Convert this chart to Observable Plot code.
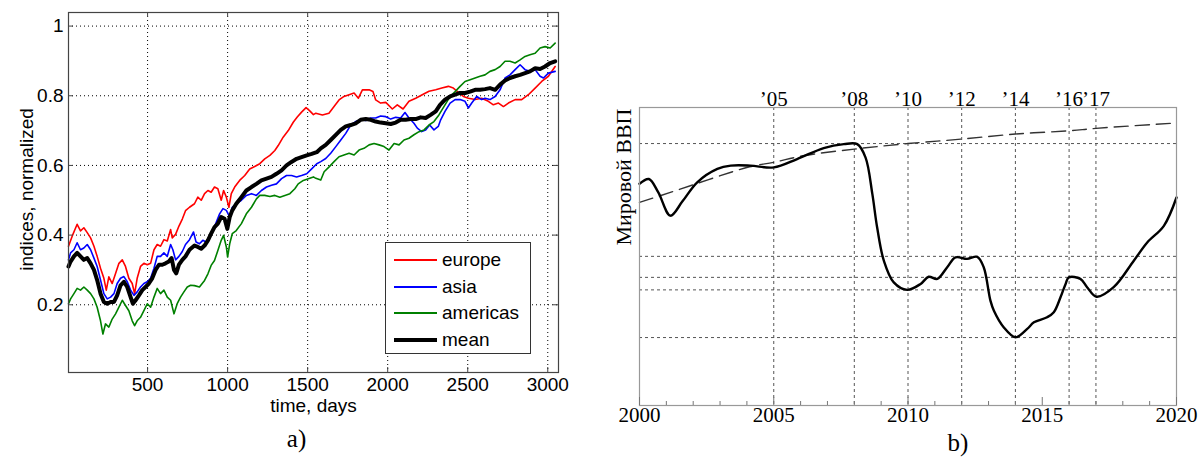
<!DOCTYPE html>
<html><head><meta charset="utf-8">
<script src="https://cdn.jsdelivr.net/npm/d3@7"></script>
<script src="https://cdn.jsdelivr.net/npm/@observablehq/plot@0.6"></script>
<style>
body{margin:0;background:#fff;}
#wrap{position:relative;width:1203px;height:464px;background:#fff;overflow:hidden;}
#wrap .panel{position:absolute;top:0;}
#legend{position:absolute;left:385px;top:242px;width:144px;height:110px;border:1px solid #333;background:#fff;font-family:"Liberation Sans",Arial,sans-serif;font-size:19px;color:#000;}
#legend .row{position:absolute;left:0;height:20px;width:144px;}
#legend .sw{position:absolute;left:8px;width:43px;top:50%;}
#legend .lb{position:absolute;left:56px;top:50%;transform:translateY(-52%);line-height:1;}
</style></head>
<body><div id="wrap"></div>
<script>
// ---------- panel a: regional stock indices, normalized ----------
const seriesNames = ["europe", "asia", "americas", "mean"];
const seriesColors = ["#ff0000", "#0000ff", "#008000", "#000000"];
const xTicksA = [500, 1000, 1500, 2000, 2500, 3000];
const yTicksA = [0.2, 0.4, 0.6, 0.8, 1];

const europe = [[6,0.368],[29,0.397],[60,0.431],[81,0.412],[102,0.421],[123,0.407],[144,0.392],[165,0.368],[185,0.339],[206,0.305],[227,0.276],[242,0.242],[258,0.28],[279,0.261],[300,0.29],[321,0.319],[342,0.329],[362,0.31],[383,0.276],[404,0.261],[419,0.232],[435,0.276],[456,0.31],[477,0.319],[498,0.315],[519,0.319],[540,0.358],[560,0.373],[581,0.368],[602,0.387],[623,0.383],[644,0.416],[654,0.392],[675,0.402],[696,0.426],[717,0.446],[737,0.47],[762,0.48],[793,0.49],[814,0.509],[835,0.5],[856,0.519],[877,0.528],[897,0.523],[918,0.538],[939,0.533],[960,0.5],[975,0.528],[992,0.509],[1008,0.48],[1023,0.519],[1044,0.538],[1075,0.557],[1107,0.571],[1138,0.59],[1169,0.597],[1201,0.605],[1232,0.619],[1264,0.629],[1295,0.643],[1316,0.657],[1347,0.681],[1379,0.7],[1410,0.724],[1435,0.739],[1462,0.753],[1490,0.766],[1510,0.758],[1536,0.746],[1551,0.75],[1592,0.745],[1633,0.75],[1665,0.769],[1696,0.788],[1727,0.798],[1759,0.803],[1790,0.808],[1817,0.793],[1842,0.817],[1884,0.817],[1908,0.812],[1925,0.788],[1956,0.779],[1988,0.781],[2029,0.762],[2060,0.774],[2096,0.762],[2133,0.784],[2175,0.793],[2216,0.803],[2258,0.813],[2300,0.817],[2338,0.822],[2379,0.827],[2410,0.822],[2442,0.81],[2473,0.798],[2504,0.793],[2546,0.789],[2587,0.793],[2629,0.784],[2660,0.774],[2692,0.779],[2723,0.769],[2754,0.779],[2796,0.789],[2837,0.789],[2879,0.803],[2921,0.822],[2962,0.841],[3004,0.856],[3046,0.884]];

const asia = [[6,0.329],[19,0.349],[40,0.358],[60,0.378],[81,0.358],[102,0.363],[123,0.373],[144,0.358],[165,0.334],[185,0.31],[206,0.271],[227,0.232],[248,0.217],[269,0.222],[290,0.232],[310,0.261],[331,0.276],[352,0.281],[373,0.266],[394,0.242],[415,0.227],[435,0.237],[456,0.251],[477,0.261],[498,0.266],[519,0.276],[540,0.305],[560,0.339],[581,0.339],[602,0.349],[623,0.339],[644,0.373],[658,0.358],[675,0.329],[696,0.339],[717,0.353],[737,0.373],[762,0.387],[787,0.409],[803,0.38],[824,0.375],[845,0.385],[866,0.38],[887,0.394],[908,0.413],[929,0.437],[950,0.461],[971,0.476],[992,0.471],[1013,0.452],[1029,0.48],[1054,0.49],[1086,0.5],[1117,0.514],[1149,0.519],[1180,0.514],[1211,0.528],[1243,0.538],[1274,0.543],[1305,0.547],[1337,0.562],[1368,0.571],[1399,0.571],[1431,0.567],[1462,0.571],[1494,0.576],[1525,0.59],[1557,0.605],[1582,0.611],[1613,0.62],[1644,0.635],[1676,0.654],[1707,0.673],[1738,0.692],[1769,0.716],[1800,0.726],[1831,0.731],[1863,0.729],[1894,0.736],[1925,0.736],[1956,0.742],[1988,0.74],[2019,0.733],[2050,0.738],[2081,0.736],[2108,0.752],[2133,0.736],[2164,0.721],[2185,0.707],[2212,0.697],[2237,0.702],[2262,0.716],[2289,0.702],[2316,0.712],[2331,0.731],[2358,0.755],[2390,0.779],[2421,0.789],[2452,0.789],[2483,0.784],[2504,0.765],[2525,0.779],[2556,0.798],[2587,0.789],[2608,0.793],[2639,0.789],[2671,0.798],[2702,0.817],[2733,0.851],[2764,0.86],[2796,0.875],[2827,0.889],[2858,0.875],[2889,0.87],[2921,0.875],[2952,0.856],[2973,0.851],[3004,0.865],[3046,0.87]];

const americas = [[6,0.203],[19,0.217],[40,0.232],[60,0.247],[81,0.242],[102,0.251],[123,0.242],[144,0.232],[165,0.217],[185,0.193],[206,0.154],[221,0.116],[237,0.145],[258,0.136],[279,0.159],[300,0.174],[321,0.193],[342,0.213],[362,0.198],[383,0.183],[404,0.154],[419,0.14],[435,0.154],[456,0.164],[477,0.183],[498,0.203],[519,0.193],[540,0.222],[560,0.247],[581,0.232],[602,0.242],[623,0.222],[644,0.213],[665,0.174],[685,0.203],[706,0.222],[727,0.237],[748,0.251],[769,0.256],[793,0.255],[824,0.251],[856,0.27],[877,0.289],[897,0.313],[918,0.327],[939,0.356],[960,0.385],[975,0.399],[992,0.366],[1000,0.337],[1013,0.375],[1029,0.404],[1054,0.413],[1086,0.433],[1117,0.461],[1149,0.48],[1180,0.504],[1201,0.514],[1232,0.514],[1264,0.511],[1295,0.514],[1326,0.509],[1358,0.514],[1389,0.519],[1420,0.533],[1441,0.547],[1473,0.557],[1504,0.562],[1536,0.567],[1551,0.563],[1582,0.558],[1603,0.582],[1634,0.596],[1665,0.611],[1696,0.625],[1727,0.63],[1759,0.635],[1790,0.63],[1821,0.644],[1852,0.649],[1884,0.659],[1915,0.663],[1946,0.659],[1977,0.654],[2008,0.644],[2040,0.663],[2071,0.659],[2102,0.673],[2133,0.678],[2164,0.688],[2196,0.697],[2227,0.702],[2258,0.716],[2289,0.726],[2320,0.745],[2358,0.774],[2390,0.798],[2421,0.812],[2452,0.827],[2483,0.841],[2515,0.846],[2546,0.851],[2577,0.856],[2608,0.86],[2639,0.87],[2671,0.875],[2702,0.884],[2733,0.899],[2764,0.899],[2796,0.894],[2827,0.903],[2858,0.913],[2889,0.918],[2921,0.922],[2952,0.937],[2983,0.941],[3015,0.937],[3046,0.951]];

const mean = [[6,0.31],[19,0.324],[40,0.339],[60,0.349],[81,0.339],[102,0.329],[123,0.334],[144,0.319],[165,0.3],[185,0.271],[206,0.232],[227,0.208],[248,0.203],[269,0.208],[290,0.208],[310,0.227],[331,0.256],[352,0.266],[373,0.251],[394,0.222],[408,0.203],[425,0.213],[446,0.227],[467,0.242],[487,0.251],[508,0.261],[529,0.276],[550,0.3],[571,0.315],[592,0.315],[612,0.319],[633,0.324],[650,0.334],[665,0.3],[679,0.29],[696,0.315],[717,0.329],[737,0.339],[762,0.358],[793,0.37],[814,0.366],[835,0.361],[856,0.37],[877,0.385],[897,0.404],[918,0.423],[939,0.433],[960,0.452],[981,0.447],[998,0.418],[1013,0.452],[1029,0.471],[1054,0.49],[1086,0.509],[1117,0.528],[1149,0.538],[1180,0.547],[1211,0.557],[1243,0.562],[1274,0.567],[1305,0.576],[1337,0.586],[1368,0.6],[1399,0.61],[1431,0.619],[1462,0.624],[1494,0.629],[1525,0.633],[1557,0.638],[1582,0.649],[1613,0.659],[1644,0.673],[1676,0.688],[1707,0.702],[1738,0.712],[1769,0.716],[1800,0.721],[1831,0.731],[1863,0.733],[1894,0.731],[1925,0.726],[1956,0.723],[1988,0.721],[2019,0.719],[2050,0.723],[2081,0.731],[2112,0.731],[2144,0.733],[2175,0.733],[2206,0.738],[2237,0.736],[2268,0.745],[2300,0.755],[2327,0.774],[2358,0.789],[2390,0.798],[2421,0.803],[2452,0.808],[2483,0.808],[2515,0.812],[2546,0.817],[2577,0.817],[2608,0.819],[2639,0.822],[2671,0.817],[2702,0.832],[2733,0.844],[2764,0.851],[2796,0.856],[2827,0.86],[2858,0.865],[2889,0.87],[2921,0.879],[2952,0.877],[2983,0.884],[3015,0.894],[3046,0.899]];

// ---------- panel b: world GDP ----------
const gdpCurve = [[2000.0,74.4],[2000.35,76.0],[2000.7,71.5],[2001.15,63.7],[2001.6,68.5],[2002.15,74.9],[2002.9,79.4],[2003.4,80.5],[2004.13,80.5],[2005.0,79.9],[2005.87,82.7],[2006.86,86.4],[2007.61,87.7],[2008.11,87.7],[2008.42,83.2],[2008.67,71.1],[2008.85,59.8],[2009.1,48.6],[2009.47,41.3],[2009.97,38.8],[2010.47,40.8],[2010.77,43.2],[2011.09,42.5],[2011.46,46.4],[2011.77,49.7],[2012.2,49.2],[2012.58,49.9],[2012.82,46.4],[2013.07,35.2],[2013.2,31.8],[2013.57,26.2],[2014.0,22.9],[2014.44,25.7],[2014.69,27.9],[2015.18,29.6],[2015.43,31.3],[2015.68,36.3],[2015.87,40.8],[2015.99,43.0],[2016.42,42.5],[2016.67,39.7],[2017.02,36.5],[2017.66,39.7],[2018.41,48.6],[2018.91,54.7],[2019.53,60.3],[2020.0,69.8]];
const gdpTrend = [[2000,68.15],[2001.15,71.5],[2004.1,80.1],[2005,81.6],[2006.1,83.8],[2008,86.05],[2010,87.9],[2012,89.4],[2014,91.1],[2016,92.2],[2017,93.0],[2020,94.8]];
const markerYears = [2005, 2008, 2010, 2012, 2014, 2016, 2017];
const levelValues = [87.9, 50.05, 43.0, 38.8, 22.8];
const majorYears = [2000, 2005, 2010, 2015, 2020];
const minorYears = [2001,2002,2003,2004,2006,2007,2008,2009,2011,2012,2013,2014,2016,2017,2018,2019];

const sans = '"Liberation Sans", Arial, Helvetica, sans-serif';
const serif = '"Liberation Serif", "Times New Roman", "DejaVu Serif", serif';

const wrap = document.getElementById("wrap");

// ----- panel a -----
const FWa = 490, FHa = 360;
const seriesData = [europe, asia, americas, mean];
const plotA = Plot.plot({
  width: 600, height: 464,
  marginLeft: 68, marginRight: 42, marginTop: 12, marginBottom: 92,
  x: {domain: [6, 3067], label: null},
  y: {domain: [0.0056, 1.039], label: null},
  style: {fontFamily: sans, fontSize: "19px", background: "transparent", color: "#000", overflow: "visible"},
  marks: [
    Plot.ruleX(xTicksA, {stroke: "#000", strokeDasharray: "1,3", strokeWidth: 1}),
    Plot.ruleY(yTicksA, {stroke: "#000", strokeDasharray: "1,3", strokeWidth: 1}),
    ...seriesData.map((s, i) => Plot.line(s, {
      x: d => d[0], y: d => d[1], stroke: seriesColors[i],
      strokeWidth: i === 3 ? 4 : 1.6, strokeLinejoin: "round"
    })),
    Plot.frame({stroke: "#444", strokeWidth: 1.2}),
    Plot.ruleX(xTicksA, {insetTop: FHa - 5, stroke: "#444"}),
    Plot.ruleX(xTicksA, {insetBottom: FHa - 5, stroke: "#444"}),
    Plot.ruleY(yTicksA, {insetRight: FWa - 5, stroke: "#444"}),
    Plot.ruleY(yTicksA, {insetLeft: FWa - 5, stroke: "#444"}),
    Plot.axisX(xTicksA, {anchor: "bottom", tickSize: 0, tickPadding: 5, tickFormat: d => String(d), label: null, fontSize: 19}),
    Plot.axisY(yTicksA, {anchor: "left", tickSize: 0, tickPadding: 5, tickFormat: d => d === 1 ? "1" : d.toFixed(1), label: null, fontSize: 19}),
    Plot.text(["time, days"], {frameAnchor: "bottom", dy: 39, fontSize: 19}),
    Plot.text(["indices, normalized"], {frameAnchor: "top-left", dx: -49, dy: 177, rotate: -90, textAnchor: "middle", fontSize: 19}),
    Plot.text(["a)"], {frameAnchor: "bottom", dx: -17, dy: 74, fontSize: 25, fontFamily: serif})
  ]
});
plotA.classList.add("panel");
plotA.style.left = "0px";
wrap.appendChild(plotA);

// legend for panel a
const legend = document.createElement("div");
legend.id = "legend";
const rowCenters = [17, 44, 70, 97];
seriesNames.forEach((name, i) => {
  const row = document.createElement("div");
  row.className = "row";
  row.style.top = (rowCenters[i] - 10) + "px";
  const sw = document.createElement("div");
  sw.className = "sw";
  const h = i === 3 ? 4 : 2;
  sw.style.height = h + "px";
  sw.style.marginTop = (-h / 2) + "px";
  sw.style.background = seriesColors[i];
  const lb = document.createElement("div");
  lb.className = "lb";
  lb.textContent = name;
  row.appendChild(sw); row.appendChild(lb);
  legend.appendChild(row);
});
wrap.appendChild(legend);

// ----- panel b -----
const FHb = 298;
const plotB = Plot.plot({
  width: 613, height: 464,
  marginLeft: 49, marginRight: 27, marginTop: 107, marginBottom: 59,
  x: {domain: [2000, 2020], label: null},
  y: {domain: [0, 100], label: null, axis: null},
  style: {fontFamily: serif, fontSize: "21px", background: "transparent", color: "#000", overflow: "visible"},
  marks: [
    Plot.ruleY(levelValues, {stroke: "#555", strokeDasharray: "3,3", strokeWidth: 1}),
    Plot.ruleX(markerYears, {stroke: "#555", strokeDasharray: "3,3", strokeWidth: 1}),
    Plot.line(gdpTrend, {x: d => d[0], y: d => d[1], stroke: "#333", strokeWidth: 1.4, strokeDasharray: "14,7", curve: "catmull-rom"}),
    Plot.line(gdpCurve, {x: d => d[0], y: d => d[1], stroke: "#000", strokeWidth: 2.4, curve: "catmull-rom"}),
    Plot.frame({stroke: "#999", strokeWidth: 1.2}),
    Plot.ruleX(minorYears, {insetTop: FHb - 4, stroke: "#777"}),
    Plot.ruleX(majorYears, {insetTop: FHb - 8, stroke: "#777"}),
    Plot.axisX(majorYears, {anchor: "bottom", tickSize: 0, tickPadding: 2, tickFormat: d => String(d), label: null, fontSize: 21}),
    Plot.axisX(markerYears, {anchor: "top", tickSize: 0, tickPadding: 2, tickFormat: d => "\u2019" + String(d).slice(2), label: null, fontSize: 21}),
    Plot.text(["Мировой ВВП"], {frameAnchor: "top-left", dx: -24, dy: 1, rotate: -90, textAnchor: "end", fontSize: 22}),
    Plot.text(["b)"], {frameAnchor: "bottom", dx: 50, dy: 45, fontSize: 25})
  ]
});
plotB.classList.add("panel");
plotB.style.left = "590px";
wrap.appendChild(plotB);
</script>
</body></html>
